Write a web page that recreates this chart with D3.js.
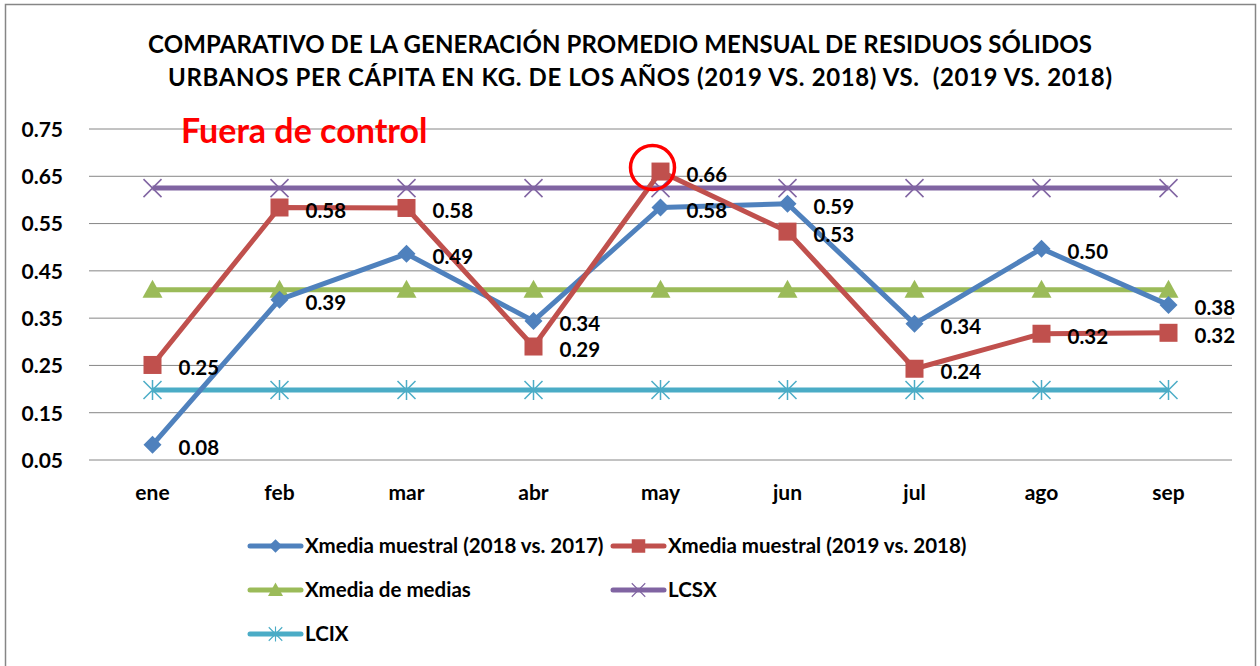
<!DOCTYPE html>
<html>
<head>
<meta charset="utf-8">
<script src="https://cdn.jsdelivr.net/npm/d3@7"></script>
<style>
  body { margin: 0; background: #fff; }
  text { font-family: Lato, "Open Sans", sans-serif; font-weight: bold; fill: #000; }
</style>
</head>
<body>
<svg id="chart" width="1260" height="666"></svg>
<script>
const months = ['ene', 'feb', 'mar', 'abr', 'may', 'jun', 'jul', 'ago', 'sep'];
const muestral2018 = [0.082, 0.389, 0.486, 0.344, 0.584, 0.592, 0.338, 0.497, 0.378];
const muestral2019 = [0.251, 0.584, 0.583, 0.290, 0.660, 0.533, 0.243, 0.317, 0.319];
const mediaDeMedias = [0.41, 0.41, 0.41, 0.41, 0.41, 0.41, 0.41, 0.41, 0.41];
const lcsx = [0.625, 0.625, 0.625, 0.625, 0.625, 0.625, 0.625, 0.625, 0.625];
const lcix = [0.198, 0.198, 0.198, 0.198, 0.198, 0.198, 0.198, 0.198, 0.198];
const yTicks = [0.05, 0.15, 0.25, 0.35, 0.45, 0.55, 0.65, 0.75];

const titleLines = [
  'COMPARATIVO DE LA GENERACIÓN PROMEDIO MENSUAL DE RESIDUOS SÓLIDOS',
  'URBANOS PER CÁPITA EN KG. DE LOS AÑOS (2019 VS. 2018) VS.  (2019 VS. 2018)'
];

const series = [
  { name: 'Xmedia muestral (2018 vs. 2017)', values: muestral2018, color: '#4f81bd', marker: 'diamond', labels: true },
  { name: 'Xmedia muestral (2019 vs. 2018)', values: muestral2019, color: '#c0504d', marker: 'square', labels: true },
  { name: 'Xmedia de medias', values: mediaDeMedias, color: '#9bbb59', marker: 'triangle' },
  { name: 'LCSX', values: lcsx, color: '#8064a2', marker: 'x' },
  { name: 'LCIX', values: lcix, color: '#4bacc6', marker: 'star' }
];

const svg = d3.select('#chart');

// outer border
svg.append('rect')
  .attr('x', 5.5).attr('y', 4.5)
  .attr('width', 1250).attr('height', 670)
  .attr('fill', 'none').attr('stroke', '#868686').attr('stroke-width', 1.5);

const margin = { left: 89, right: 28, top: 129, bottom: 206 };
const width = 1260 - margin.left - margin.right;
const height = 666 - margin.top - margin.bottom;

const x = d3.scaleBand().domain(months).range([margin.left, margin.left + width]);
const y = d3.scaleLinear().domain([0.05, 0.75]).range([margin.top + height, margin.top]);
const cx = m => x(m) + x.bandwidth() / 2;

// title (the two lines sit slightly off-centre in the original)
const titleX = [148, 168];
svg.append('g').selectAll('text')
  .data(titleLines)
  .enter().append('text')
  .attr('x', (d, i) => titleX[i])
  .attr('y', (d, i) => 53 + i * 33)
  .attr('textLength', 944)
  .attr('lengthAdjust', 'spacing')
  .style('font-size', '24px')
  .style('white-space', 'pre')
  .text(d => d);

// gridlines
svg.append('g')
  .selectAll('line')
  .data(yTicks)
  .enter().append('line')
  .attr('x1', margin.left).attr('x2', margin.left + width)
  .attr('y1', d => y(d)).attr('y2', d => y(d))
  .attr('stroke', '#868686').attr('stroke-width', 1);

// y axis labels
const yAxis = svg.append('g')
  .attr('transform', `translate(${margin.left - 23},0)`)
  .call(d3.axisLeft(y).tickValues(yTicks).tickFormat(d3.format('.2f')).tickSize(0));
yAxis.select('.domain').remove();
yAxis.selectAll('text')
  .attr('dy', '0.35em')
  .style('font-size', '21px')
  .style('font-family', 'Lato, sans-serif');

// x axis labels
const xAxis = svg.append('g')
  .attr('transform', `translate(0,${margin.top + height + 22})`)
  .call(d3.axisBottom(x).tickSize(0));
xAxis.select('.domain').remove();
xAxis.selectAll('text')
  .attr('dy', '0.71em')
  .style('font-size', '21px')
  .style('font-family', 'Lato, sans-serif');

function drawMarker(g, type, color) {
  if (type === 'diamond') {
    g.append('path').attr('d', 'M0,-9L9,0L0,9L-9,0Z').attr('fill', color);
  } else if (type === 'square') {
    g.append('rect').attr('x', -9).attr('y', -9).attr('width', 18).attr('height', 18).attr('fill', color);
  } else if (type === 'triangle') {
    g.append('path').attr('d', 'M0,-10L10,8L-10,8Z').attr('fill', color);
  } else if (type === 'x') {
    g.append('path').attr('d', 'M-9,-9L9,9M-9,9L9,-9').attr('stroke', color).attr('stroke-width', 1.5).attr('fill', 'none');
  } else if (type === 'star') {
    g.append('path').attr('d', 'M-9,-9L9,9M-9,9L9,-9M0,-10L0,10').attr('stroke', color).attr('stroke-width', 1.5).attr('fill', 'none');
  }
}

const line = d3.line()
  .x((d, i) => cx(months[i]))
  .y(d => y(d));

// draw in reverse so the sampled series sit on top
const drawOrder = [4, 3, 2, 0, 1];
drawOrder.forEach(idx => {
  const s = series[idx];
  const g = svg.append('g');
  g.append('path')
    .datum(s.values)
    .attr('d', line)
    .attr('fill', 'none')
    .attr('stroke', s.color)
    .attr('stroke-width', 5)
    .attr('stroke-linejoin', 'round');
  s.values.forEach((v, i) => {
    const mg = g.append('g').attr('transform', `translate(${cx(months[i])},${y(v)})`);
    drawMarker(mg, s.marker, s.color);
  });
});

// data labels
series.filter(s => s.labels).forEach(s => {
  svg.append('g').selectAll('text')
    .data(s.values)
    .enter().append('text')
    .attr('x', (d, i) => cx(months[i]) + 26)
    .attr('y', d => y(d) + 3)
    .attr('dy', '0.35em')
    .style('font-size', '20.5px')
    .text(d => d3.format('.2f')(d));
});

// annotation
svg.append('text')
  .attr('x', 181).attr('y', 143)
  .style('font-size', '34px')
  .style('fill', '#ff0000')
  .text('Fuera de control');

svg.append('circle')
  .attr('cx', cx('may') - 8).attr('cy', y(0.66) - 4)
  .attr('r', 22)
  .attr('fill', 'none')
  .attr('stroke', '#ff0000')
  .attr('stroke-width', 3.5);

// legend
const legendPos = [
  { x: 250, y: 546 }, { x: 613, y: 546 },
  { x: 250, y: 590 }, { x: 613, y: 590 },
  { x: 250, y: 634 }
];
series.forEach((s, i) => {
  const lg = svg.append('g').attr('transform', `translate(${legendPos[i].x},${legendPos[i].y})`);
  lg.append('line')
    .attr('x1', 0).attr('x2', 51)
    .attr('stroke', s.color).attr('stroke-width', 5).attr('stroke-linecap', 'round');
  const mg = lg.append('g').attr('transform', 'translate(25.5,0) scale(0.75)');
  drawMarker(mg, s.marker, s.color);
  lg.append('text')
    .attr('x', 55)
    .attr('dy', '0.35em')
    .style('font-size', '20.5px')
    .text(s.name);
});
</script>
</body>
</html>
